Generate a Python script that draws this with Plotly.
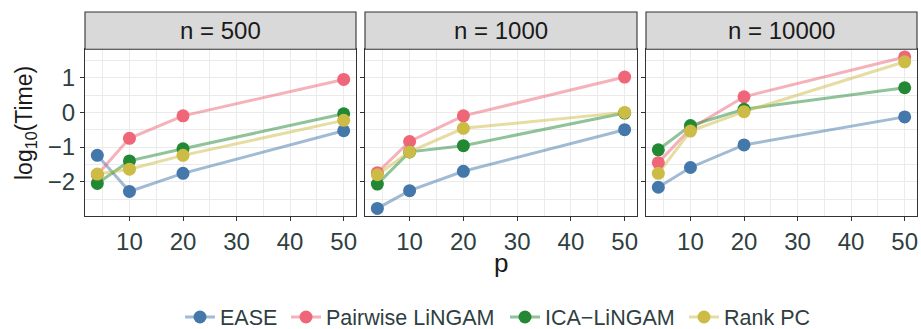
import plotly.graph_objects as go

W, H = 921, 329

p_vals = [4, 10, 20, 50]
panels = ["n = 500", "n = 1000", "n = 10000"]
methods = ["EASE", "Pairwise LiNGAM", "ICA\u2212LiNGAM", "Rank PC"]

# log10(Time) per panel, per method, at p = 4, 10, 20, 50
ease_vals = [[-1.24, -2.28, -1.76, -0.53],
             [-2.77, -2.26, -1.70, -0.50],
             [-2.16, -1.59, -0.94, -0.13]]
pairwise_vals = [[-1.80, -0.75, -0.10, 0.95],
                 [-1.74, -0.84, -0.10, 1.02],
                 [-1.45, -0.47, 0.45, 1.60]]
ica_vals = [[-2.05, -1.40, -1.05, -0.04],
            [-2.07, -1.14, -0.96, -0.02],
            [-1.08, -0.38, 0.09, 0.71]]
rankpc_vals = [[-1.78, -1.64, -1.24, -0.23],
               [-1.80, -1.14, -0.46, 0.00],
               [-1.76, -0.54, 0.02, 1.46]]
series = [ease_vals, pairwise_vals, ica_vals, rankpc_vals]

marker_colors = ["#4477AA", "#EE6677", "#228833", "#CCBB44"]
line_colors = ["rgba(68,119,170,0.5)", "rgba(238,102,119,0.5)",
               "rgba(34,136,51,0.5)", "rgba(204,187,68,0.5)"]

y_ticks = [-2, -1, 0, 1]
y_ticktext = ["\u22122", "\u22121", "0", "1"]
x_ticks = [10, 20, 30, 40, 50]

px_x = [(85, 356), (365, 637), (646, 917)]
y_top, y_bot = 49.3, 216
strip_top = 12
legend_marker_px = [203, 309, 528, 707]

FONT = "Liberation Sans, Arial, sans-serif"
TICKCOL = "#2F3F3F"

fig = go.Figure()

# lines first (like geom_line), then points
for k in range(3):
    xa = "x" if k == 0 else f"x{k+1}"
    ya = "y" if k == 0 else f"y{k+1}"
    for m in range(4):
        fig.add_trace(go.Scatter(x=p_vals, y=series[m][k], mode="lines",
                                 line=dict(color=line_colors[m], width=3),
                                 xaxis=xa, yaxis=ya, showlegend=False,
                                 hoverinfo="skip"))
    for m in range(4):
        fig.add_trace(go.Scatter(x=p_vals, y=series[m][k], mode="markers",
                                 marker=dict(color=marker_colors[m], size=13),
                                 xaxis=xa, yaxis=ya, showlegend=False))

# legend entries, one legend per method for exact placement
legend_names = ["legend", "legend2", "legend3", "legend4"]
for m in range(4):
    fig.add_trace(go.Scatter(x=[None], y=[None], mode="lines+markers",
                             name=methods[m], legend=legend_names[m],
                             line=dict(color=line_colors[m], width=3),
                             marker=dict(color=marker_colors[m], size=13),
                             showlegend=True))

layout = dict(
    width=W, height=H,
    margin=dict(l=0, r=0, t=0, b=0, autoexpand=False),
    paper_bgcolor="white", plot_bgcolor="white",
    font=dict(family=FONT, size=22, color=TICKCOL),
    showlegend=True,
)
for m in range(4):
    layout[legend_names[m]] = dict(
        orientation="h", x=(legend_marker_px[m] - 23) / W, xanchor="left",
        y=1 - 317 / H, yanchor="middle",
        font=dict(size=21.5, color=TICKCOL, family=FONT),
        bgcolor="rgba(0,0,0,0)", borderwidth=0)

shapes = []
annotations = []
for k in range(3):
    x0, x1 = px_x[k]
    dom = [x0 / W, x1 / W]
    sfx = "" if k == 0 else str(k + 1)
    layout["xaxis" + sfx] = dict(
        domain=dom, range=[1.7, 52.3], tickvals=x_ticks,
        showgrid=True, gridcolor="#EBEBEB", gridwidth=1.1,
        minor=dict(dtick=5, tick0=5, showgrid=True, gridcolor="#EBEBEB",
                   gridwidth=0.6, ticks=""),
        showline=True, linecolor="#333333", linewidth=1.1, mirror=True,
        ticks="outside", ticklen=4, tickcolor="#333333", tickwidth=1.1,
        tickfont=dict(size=24, color=TICKCOL),
        zeroline=False, automargin=False,
        anchor="y" + sfx,
    )
    layout["yaxis" + sfx] = dict(
        domain=[1 - y_bot / H, 1 - y_top / H], range=[-2.99, 1.82],
        tickvals=y_ticks, ticktext=y_ticktext,
        showticklabels=(k == 0),
        showgrid=True, gridcolor="#EBEBEB", gridwidth=1.1,
        minor=dict(tickvals=[-2.5, -1.5, -0.5, 0.5, 1.5], showgrid=True,
                   gridcolor="#EBEBEB", gridwidth=0.6, ticks=""),
        showline=True, linecolor="#333333", linewidth=1.1, mirror=True,
        ticks="outside", ticklen=4, tickcolor="#333333", tickwidth=1.1,
        tickfont=dict(size=24, color=TICKCOL),
        zeroline=False, automargin=False,
        anchor="x" + sfx,
    )
    # strip
    shapes.append(dict(type="rect", xref="paper", yref="paper",
                       x0=x0 / W, x1=x1 / W,
                       y0=1 - y_top / H, y1=1 - strip_top / H,
                       fillcolor="#D9D9D9",
                       line=dict(color="#333333", width=1.1), layer="above"))
    annotations.append(dict(text=panels[k], xref="paper", yref="paper",
                            x=(x0 + x1) / 2 / W,
                            y=1 - (strip_top + y_top) / 2 / H,
                            xanchor="center", yanchor="middle",
                            showarrow=False,
                            font=dict(size=24, color="#1A1A1A", family=FONT)))

annotations.append(dict(text="log<sub>10</sub>(Time)", xref="paper",
                        yref="paper", x=25 / W, y=1 - 123 / H,
                        xanchor="center", yanchor="middle", textangle=-90,
                        showarrow=False,
                        font=dict(size=23, color="#1A1A1A", family=FONT)))
annotations.append(dict(text="p", xref="paper", yref="paper",
                        x=501 / W, y=1 - 263 / H,
                        xanchor="center", yanchor="middle",
                        showarrow=False,
                        font=dict(size=26, color="#1A1A1A", family=FONT)))

layout["shapes"] = shapes
layout["annotations"] = annotations
fig.update_layout(**layout)

fig.write_html("out.html")
